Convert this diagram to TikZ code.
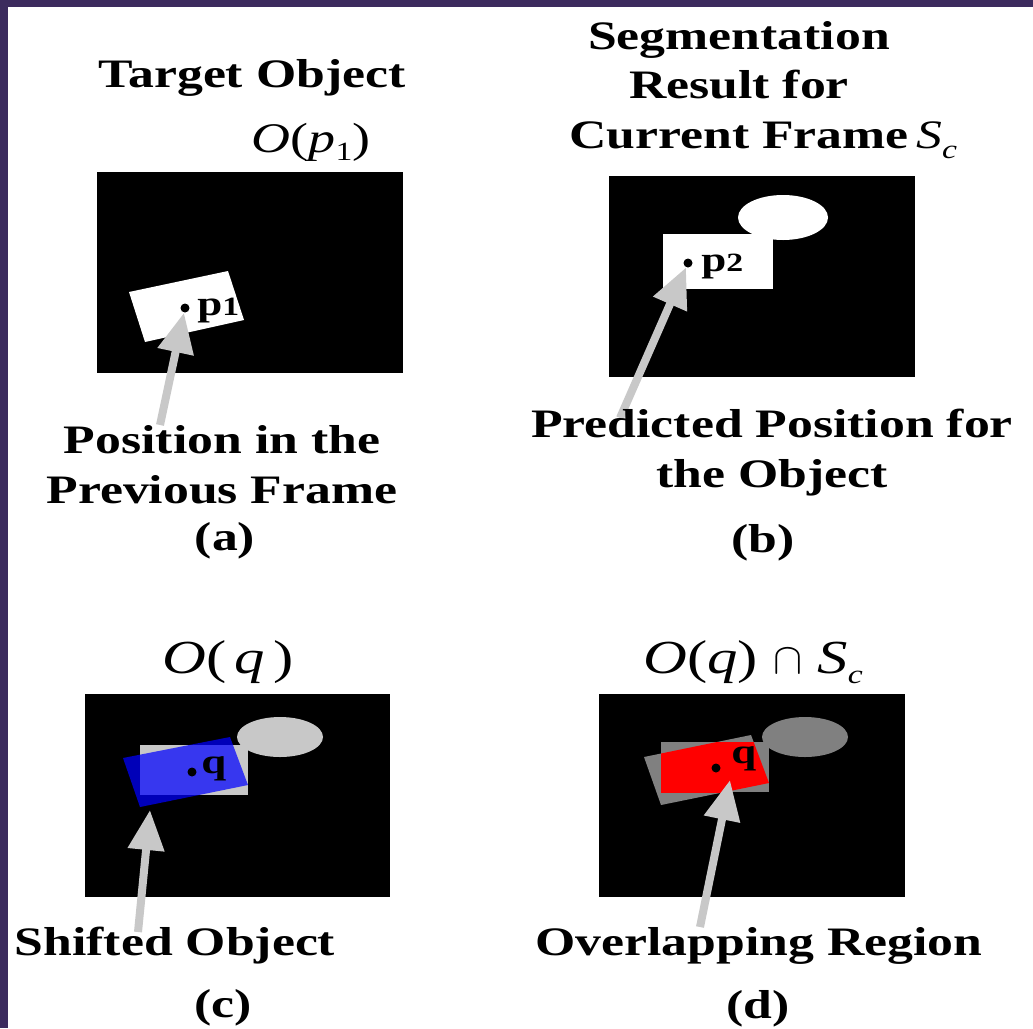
\documentclass[tikz,border=0pt]{standalone}
\usepackage{fontspec}
\setmainfont{Liberation Serif}[FakeStretch=1.28]
\usetikzlibrary{arrows.meta,positioning}
\definecolor{edgepurple}{HTML}{3C2B5E}
\definecolor{pointgray}{HTML}{C8C8C8}
\definecolor{segmgray}{HTML}{808080}
\definecolor{shiftblue}{HTML}{0000FF}
\definecolor{overlapred}{HTML}{FF0000}
\newcommand{\mv}[1]{\textit{#1}}
\newcommand{\lowsub}[2]{\raisebox{-#1}{\fontsize{15}{15}\selectfont #2}}
\newcommand{\ptlabel}[2]{\textbf{#1{\fontsize{15}{15}\selectfont #2}}}

\begin{document}
\begin{tikzpicture}[x=0.02cm,y=-0.02cm,
    txt/.style={font=\fontsize{23}{28}\selectfont\bfseries,inner sep=0pt,anchor=base,align=center},
    mtxt/.style={font=\fontsize{#1}{#1}\selectfont,inner sep=0pt,anchor=base},
    dotmark/.style={circle,fill=black,inner sep=0pt,minimum size=0.18cm},
    ptname/.style={font=\fontsize{20}{20}\selectfont\bfseries,inner sep=0pt,anchor=base west},
    pointer/.style={-{Triangle[length=0.8cm,width=0.7cm]},line width=0.16cm,draw=pointgray}
  ]
    \useasboundingbox (0,0) rectangle (1033,1028);
    \fill[white] (0,0) rectangle (1033,1028);
    \fill[edgepurple] (0,0) rectangle (1033,7);
    \fill[edgepurple] (0,0) rectangle (8,1028);

    % (a) target object
    \node[txt] (titleA) at (252,87) {Target Object};
    \node[mtxt=24] (setA) at (311,152) {\mv{O}(\mv{p}\lowsub{5pt}{1})};
    \fill[black] (97,172) rectangle (403,373);
    \fill[white] (129,292) -- (228,271) -- (244,320) -- (145,342) -- cycle;
    \node[dotmark] (pA) at (185,308) {};
    \node[ptname] (pAname) at (197,315) {\ptlabel{p}{1}};
    \coordinate (tailA) at (160,425);
    \draw[pointer] (tailA) -- (pA);
    \node[txt] (noteA) at (222,503) {Position in the\\Previous Frame};
    \node[txt] (capA) at (225,550) {(a)};

    % (b) segmentation result
    \node[txt] (titleB) at (739,148) {Segmentation\\Result for\\Current Frame};
    \node[mtxt=23,anchor=base west] (setB) at (916,148) {\mv{S}\lowsub{6pt}{\itshape c}};
    \fill[black] (609,176) rectangle (915,377);
    \fill[white] (783,217.5) ellipse [x radius=45,y radius=22.5];
    \fill[white] (663,234) rectangle (773,289);
    \node[dotmark] (pB) at (688,263) {};
    \node[ptname] (pBname) at (701,271) {\ptlabel{p}{2}};
    \coordinate (tailB) at (620,418);
    \draw[pointer] (tailB) -- (pB);
    \node[txt] (noteB) at (772,487) {Predicted Position for\\the Object};
    \node[txt] (capB) at (763,552) {(b)};

    % (c) shifted object
    \node[mtxt=27] (setC) at (228,673) {\mv{O}(\,\mv{q}\,)};
    \fill[black] (85,694) rectangle (390,897);
    \fill[pointgray] (280,737) ellipse [x radius=43,y radius=20];
    \fill[pointgray] (140,745) rectangle (248,795);
    \fill[shiftblue,opacity=0.72] (123,758) -- (230,737) -- (248,785) -- (140,807) -- cycle;
    \node[dotmark] (qC) at (192,772) {};
    \node[ptname] (qCname) at (201,773) {q};
    \coordinate (tailC) at (138,932);
    \coordinate (tipC) at (150,810);
    \draw[pointer] (tailC) -- (tipC);
    \node[txt] (noteC) at (175,955) {Shifted Object};
    \node[txt] (capC) at (223,1017) {(c)};

    % (d) overlapping region
    \node[mtxt=27] (setD) at (753,673) {\mv{O}(\mv{q}) $\cap$ \mv{S}\lowsub{6pt}{\itshape c}};
    \fill[black] (599,694) rectangle (905,897);
    \fill[segmgray] (805,737) ellipse [x radius=43,y radius=20];
    \fill[segmgray] (661,742) rectangle (769,792);
    \fill[segmgray] (644,757) -- (751,735) -- (769,783) -- (661,805) -- cycle;
    \begin{scope}
      \clip (661,742) rectangle (769,792);
      \fill[overlapred] (644,757) -- (751,735) -- (769,783) -- (661,805) -- cycle;
    \end{scope}
    \node[dotmark] (qD) at (716,768) {};
    \node[ptname] (qDname) at (731,763) {q};
    \coordinate (tailD) at (700,927);
    \coordinate (tipD) at (730,780);
    \draw[pointer] (tailD) -- (tipD);
    \node[txt] (noteD) at (759,955) {Overlapping Region};
    \node[txt] (capD) at (758,1018) {(d)};
  \end{tikzpicture}
\end{document}
